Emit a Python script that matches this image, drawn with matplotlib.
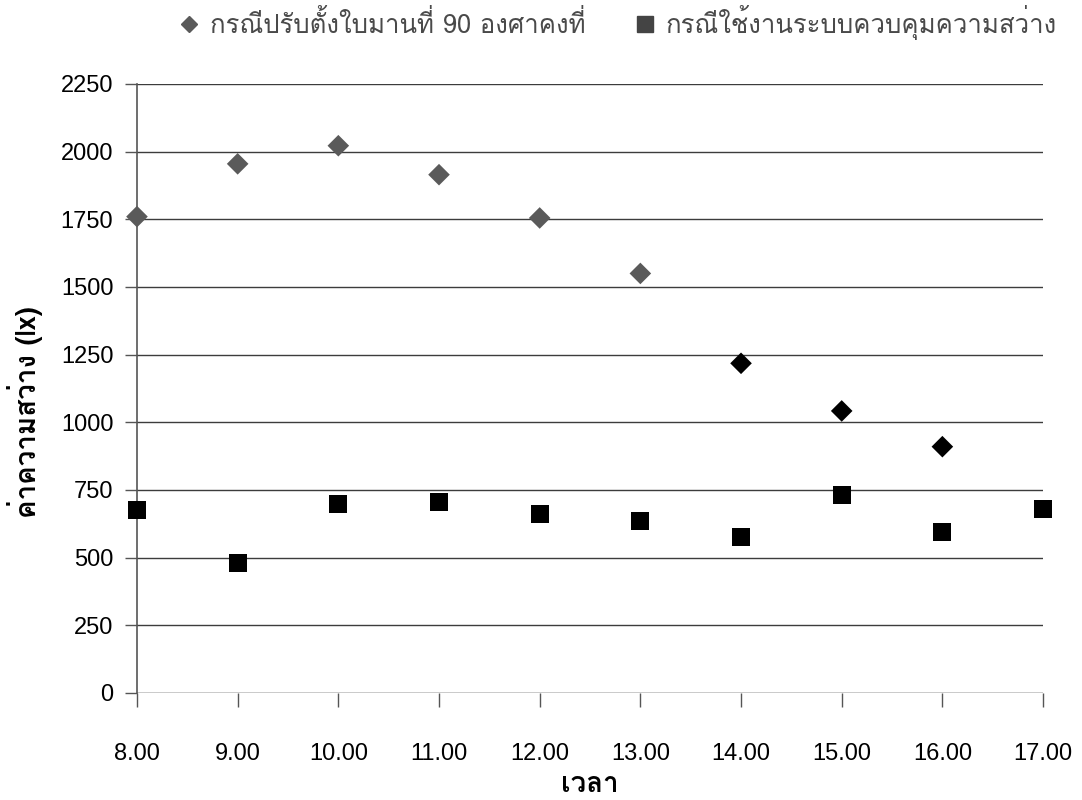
import numpy as np
import matplotlib
matplotlib.use("Agg")
import matplotlib.pyplot as plt
from matplotlib.lines import Line2D

# ข้อมูลค่าความสว่างตามช่วงเวลา
hours = [8, 9, 10, 11, 12, 13, 14, 15, 16, 17]
fixed_90 = [1760, 1955, 2022, 1915, 1755, 1550, 1218, 1042, 910]
controlled = [675, 480, 700, 707, 660, 635, 575, 733, 596, 678]

label_fixed = 'กรณีปรับตั้งใบมานที่ 90 องศาคงที่'
label_ctrl = 'กรณีใช้งานระบบควบคุมความสว่าง'
yticks = [0, 250, 500, 750, 1000, 1250, 1500, 1750, 2000, 2250]

thai = ['Loma', 'DejaVu Sans']
plt.rcParams['font.family'] = ['Liberation Sans', 'DejaVu Sans']

fig = plt.figure(figsize=(10.82, 8), dpi=100)
ax = fig.add_axes([0.1266, 0.1338, 0.8374, 0.7612])

# จุดช่วงเช้าที่อยู่ใต้ตราจางจะออกเทา
dcolors = ['#5a5a5a'] * 6 + ['#000000'] * 3
ax.scatter(hours[:len(fixed_90)], fixed_90, marker='D', s=11 ** 2, c=dcolors,
           linewidths=0, zorder=3, clip_on=False)
ax.scatter(hours, controlled, marker='s', s=13 ** 2, c='#000000',
           linewidths=0, zorder=3, clip_on=False)

ax.set_xlim(8, 17)
ax.set_ylim(0, 2250)
ax.set_xticks(hours)
ax.set_xticklabels(['%.2f' % h for h in hours])
ax.set_yticks(yticks)

for s in ['top', 'right', 'bottom']:
    ax.spines[s].set_visible(False)
ax.spines['left'].set_color('#555555')
ax.spines['left'].set_linewidth(1.2)

ax.yaxis.grid(True, color='#3c3c3c', linewidth=1.0)
ax.set_axisbelow(True)
ax.axhline(0, color='#777777', linewidth=0.9, zorder=1)

ax.tick_params(axis='y', length=9, width=1, color='#555555', pad=8, labelsize=17)
ax.tick_params(axis='x', length=10, width=1, color='#555555', pad=26, labelsize=17)

ax.set_xlabel('เวลา', family=thai, fontsize=20, fontweight='bold')
ax.xaxis.set_label_coords(0.5, -0.13)
ax.set_ylabel('ค่าความสว่าง (lx)', family=thai, fontsize=20, fontweight='bold')
ax.yaxis.set_label_coords(-0.104, 0.461)

handles = [
    Line2D([], [], marker='D', linestyle='none', color='#5a5a5a', markersize=8),
    Line2D([], [], marker='s', linestyle='none', color='#444444', markersize=11),
]
leg = fig.legend(handles, [label_fixed, label_ctrl], loc='center',
                 bbox_to_anchor=(0.571, 0.972), ncol=2, frameon=False,
                 handlelength=0.8, handletextpad=0.4, columnspacing=1.9,
                 prop={'family': thai, 'size': 18.5})
for t in leg.get_texts():
    t.set_color('#4a4a4a')

fig.savefig('out.png', dpi=100)
